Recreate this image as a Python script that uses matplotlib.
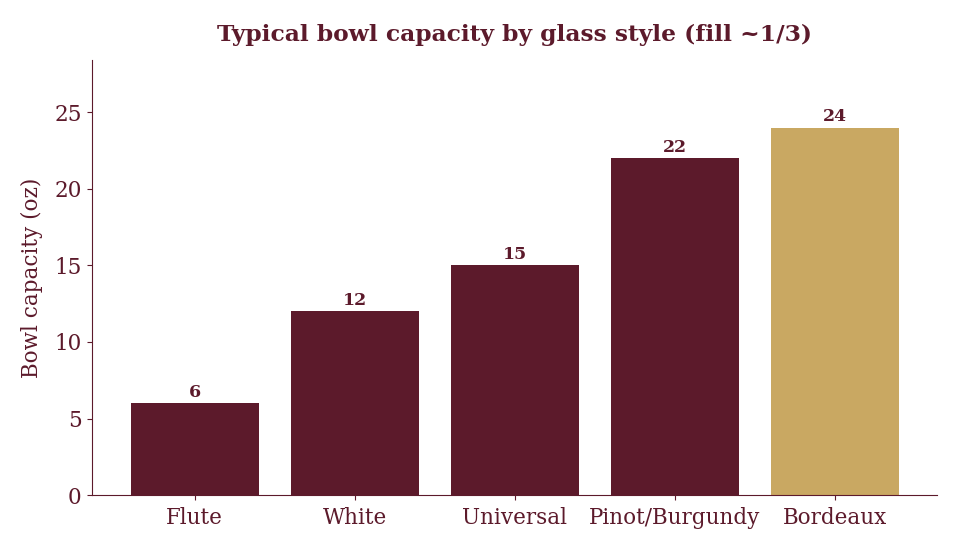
import matplotlib
matplotlib.use("Agg")
import matplotlib.pyplot as plt

categories = ["Flute", "White", "Universal", "Pinot/Burgundy", "Bordeaux"]
capacity_oz = [6, 12, 15, 22, 24]
highlight = "Bordeaux"

maroon = "#5C1A2B"
gold = "#C9A862"

plt.rcParams['font.family'] = ['DejaVu Serif']
fig, ax = plt.subplots(figsize=(9.6, 5.52), dpi=100)
fig.subplots_adjust(left=0.096, right=0.976, top=0.891, bottom=0.103)

colors = [gold if c == highlight else maroon for c in categories]
bars = ax.bar(categories, capacity_oz, width=0.8, color=colors)
for b, v in zip(bars, capacity_oz):
    ax.annotate(f"{v}", (b.get_x() + b.get_width() / 2, v), xytext=(0, 1.5),
                textcoords="offset points", ha="center", va="bottom",
                fontsize=12.5, fontweight="bold", color=maroon)

ax.set_ylim(0, 28.4)
ax.set_ylabel("Bowl capacity (oz)", fontsize=15.5, color=maroon, labelpad=8)
ax.set_title("Typical bowl capacity by glass style (fill ~1/3)", fontsize=16.8,
             fontweight="bold", color=maroon, pad=14)
ax.tick_params(colors=maroon, labelsize=15.5, labelcolor=maroon)
ax.tick_params(axis="x", pad=5)
ax.tick_params(axis="y", pad=4)
for s in ["top", "right"]:
    ax.spines[s].set_visible(False)
for s in ["left", "bottom"]:
    ax.spines[s].set_color(maroon)

fig.savefig("out.png", dpi=100)
